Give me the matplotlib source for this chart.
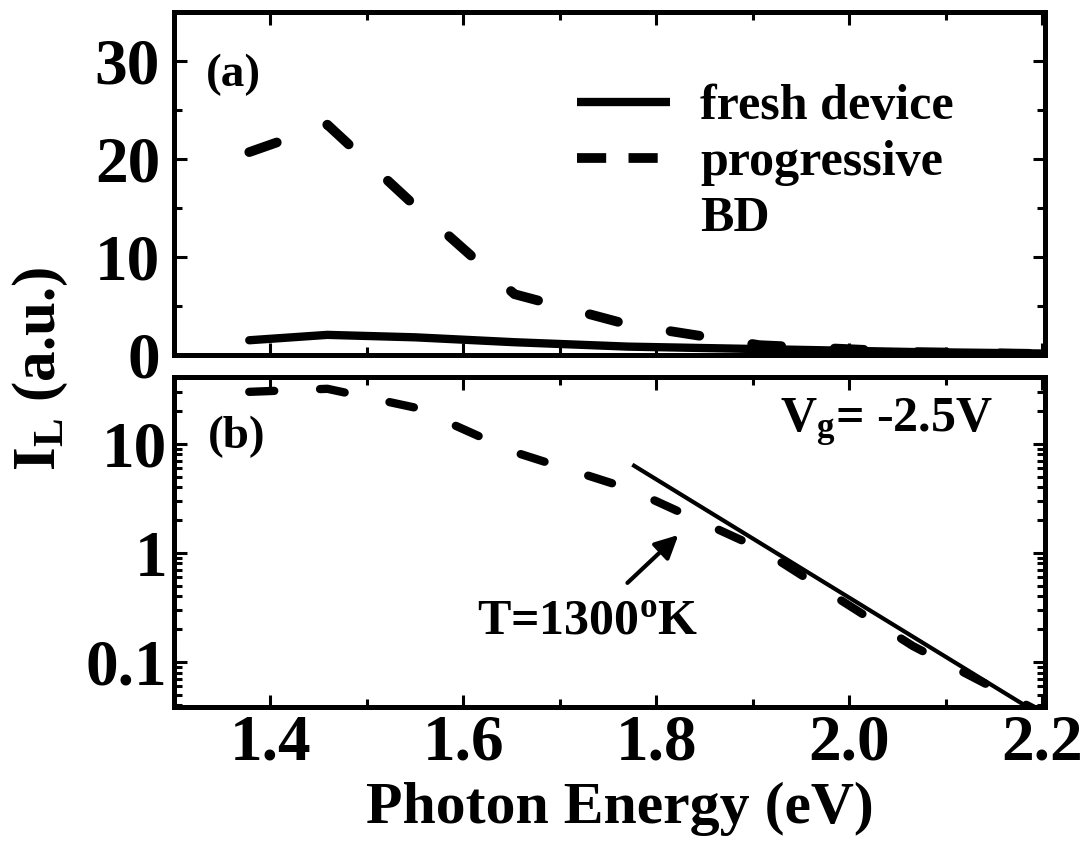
"""
Light emission spectra: fresh device vs progressive BD, linear and log panels.
"""
import matplotlib
matplotlib.use("Agg")
import matplotlib.pyplot as plt
from matplotlib.lines import Line2D
from matplotlib.ticker import MultipleLocator, FixedLocator, LogLocator, NullFormatter

# photon energies (eV), 50 nm wavelength steps
energy = [1.378, 1.459, 1.550, 1.653, 1.771, 1.907, 2.066, 2.200]

# (a) linear panel
fresh_lin = [1.5, 2.05, 1.8, 1.3, 0.85, 0.6, 0.3, 0.15]
bd_lin = [20.7, 23.5, 15.2, 6.2, 3.1, 1.0, 0.3, 0.1]

# (b) log panel
bd_log = [30.0, 32.0, 21.5, 8.4, 3.9, 1.1, 0.14, 0.034]
fit_energy = [1.777, 2.200]
fit_log = [6.3, 0.032]

x_ticks = [1.4, 1.6, 1.8, 2.0, 2.2]
x_ticklabels = ['1.4', '1.6', '1.8', '2.0', '2.2']
lin_ticks = [0, 10, 20, 30]
log_ticks = [0.1, 1, 10]
log_ticklabels = ['0.1', '1', '10']

plt.rcParams['font.family'] = ['Liberation Serif', 'DejaVu Serif']
plt.rcParams['font.weight'] = 'bold'
plt.rcParams['axes.labelweight'] = 'bold'
plt.rcParams['mathtext.fontset'] = 'custom'
plt.rcParams['mathtext.rm'] = 'Liberation Serif:bold'
plt.rcParams['mathtext.it'] = 'Liberation Serif:bold'
plt.rcParams['mathtext.bf'] = 'Liberation Serif:bold'

fig = plt.figure(figsize=(10.85, 8.5), dpi=100)
ax1 = fig.add_axes([0.1604, 0.5824, 0.8027, 0.4035])
ax2 = fig.add_axes([0.1604, 0.1682, 0.8027, 0.3882])

dash = (0, (3, 5.5))

# --- panel (a)
ax1.plot(energy, fresh_lin, color='k', lw=6, solid_capstyle='round')
ax1.plot(energy, bd_lin, color='k', lw=7, ls=dash, dash_capstyle='round')
ax1.set_ylim(0, 35)
ax1.yaxis.set_major_locator(FixedLocator(lin_ticks))
ax1.yaxis.set_minor_locator(MultipleLocator(5))
ax1.tick_params(axis='x', labelbottom=False)

# --- panel (b)
ax2.plot(energy, bd_log, color='k', lw=6, ls=dash, dash_capstyle='round')
ax2.plot(fit_energy, fit_log, color='k', lw=3)
ax2.set_yscale('log')
ax2.set_ylim(0.0386, 41)
ax2.yaxis.set_major_locator(FixedLocator(log_ticks))
ax2.yaxis.set_minor_locator(LogLocator(base=10, subs=range(2, 10)))
ax2.yaxis.set_minor_formatter(NullFormatter())
ax2.set_yticklabels(log_ticklabels)

for ax in (ax1, ax2):
    ax.set_xlim(1.3, 2.203)
    ax.set_xticks(x_ticks)
    ax.xaxis.set_minor_locator(MultipleLocator(0.1))
    for sp in ax.spines.values():
        sp.set_linewidth(3.6)
    ax.tick_params(which='both', direction='in', top=True, right=True,
                   width=2.2, labelsize=47, pad=5)
    ax.tick_params(which='major', length=9)
    ax.tick_params(which='minor', length=6)
ax1.tick_params(axis='y', pad=10)

ax2.set_xticklabels(x_ticklabels)
ax2.set_xlabel('Photon Energy (eV)', fontsize=43)
ax2.xaxis.set_label_coords(0.512, -0.225)

# legend
handles = [Line2D([], [], color='k', lw=6, solid_capstyle='butt'),
           Line2D([], [], color='k', lw=7, ls=(0, (3, 2.3)), dash_capstyle='butt'),
           Line2D([], [], color='none')]
ax1.legend(handles, ['fresh device', 'progressive', 'BD'], loc='upper left',
           bbox_to_anchor=(0.4627, 0.79), frameon=False, fontsize=36,
           handlelength=1.86, handletextpad=0.6, labelspacing=0.2,
           borderpad=0, borderaxespad=0)

# annotations
ax1.text(0.036, 0.816, '(a)', transform=ax1.transAxes, fontsize=34, va='center')
ax2.text(0.039, 0.818, '(b)', transform=ax2.transAxes, fontsize=34, va='center')
ax2.text(0.696, 0.861, 'V$_g$= -2.5V', transform=ax2.transAxes, fontsize=36, va='center')
ax2.text(0.348, 0.255, 'T=1300$^o$K', transform=ax2.transAxes, fontsize=36, va='center')
ax2.annotate('', xy=(1.825, 1.52), xytext=(1.768, 0.51),
             arrowprops=dict(arrowstyle='-|>', color='k', lw=3, mutation_scale=35))

fig.text(0.037, 0.566, 'I$_L$ (a.u.)', rotation=90, fontsize=44,
         ha='center', va='center')

fig.savefig('out.png', dpi=100)
